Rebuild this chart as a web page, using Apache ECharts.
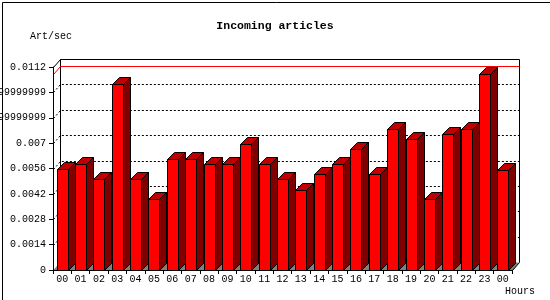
<!DOCTYPE html>
<html>
<head>
<meta charset="utf-8">
<script src="https://cdn.jsdelivr.net/npm/echarts@6/dist/echarts.min.js"></script>
<style>
html,body{margin:0;padding:0;background:#fff;}
#chart{width:550px;height:300px;}
</style>
</head>
<body>
<div id="chart"></div>
<script>
// ---- data ----
const hours = ['00','01','02','03','04','05','06','07','08','09','10','11','12','13','14','15','16','17','18','19','20','21','22','23','00'];
const artPerSec = [0.00556,0.00583,0.00500,0.01028,0.00500,0.00389,0.00611,0.00611,0.00583,0.00583,0.00694,0.00583,0.00500,0.00444,0.00528,0.00583,0.00667,0.00528,0.00778,0.00722,0.00389,0.00750,0.00778,0.01083,0.00550];
const yTickValues = [0,0.0014,0.0028,0.0042,0.0056,0.007,0.0084,0.0098,0.0112];
const yTickLabels = ['0','0.0014','0.0028','0.0042','0.0056','0.007','0.0083999999999999','0.0097999999999999','0.0112'];
const titleText = 'Incoming articles';
const yUnitText = 'Art/sec';
const xUnitText = 'Hours';

// ---- rendering ----
const FONT = '"Liberation Mono", "DejaVu Sans Mono", monospace';
const WALL_DX = 7, WALL_DY = 8, BAR_D = 7, BAR_W = 11;
const px = v => Math.round(v) + 0.5;

const chart = echarts.init(document.getElementById('chart'), null, {renderer: 'canvas'});

const barData = artPerSec.map((v, i) => [i, v]);
const gridData = yTickValues.slice(1, yTickValues.length - 1).map(v => [0, v]);
const maxVal = Math.max.apply(null, artPerSec);

function renderWalls(params, api) {
  const cs = params.coordSys;
  const L = px(cs.x), R = px(cs.x + cs.width), T = px(cs.y), B = px(cs.y + cs.height);
  const line = {stroke: '#000', lineWidth: 1, fill: null};
  return {type: 'group', children: [
    {type: 'polygon', shape: {points: [[L, B], [R, B], [R + WALL_DX, B - WALL_DY], [L + WALL_DX, B - WALL_DY]]},
      style: {fill: '#808080', stroke: null}},
    {type: 'polyline', shape: {points: [[L, T], [L + WALL_DX, T - WALL_DY], [R + WALL_DX, T - WALL_DY], [R + WALL_DX, B - WALL_DY], [R, B]]}, style: line},
    {type: 'polyline', shape: {points: [[L + WALL_DX, T - WALL_DY], [L + WALL_DX, B - WALL_DY]]}, style: line},
    {type: 'polyline', shape: {points: [[L, B], [L + WALL_DX, B - WALL_DY]]}, style: {stroke: '#808080', lineWidth: 1, fill: null}}
  ]};
}

function renderGridLine(params, api) {
  const cs = params.coordSys;
  const L = px(cs.x), R = px(cs.x + cs.width);
  const y = px(api.coord([0, api.value(1)])[1]);
  return {type: 'polyline', shape: {points: [[L, y], [L + WALL_DX, y - WALL_DY], [R + WALL_DX, y - WALL_DY]]},
    style: {stroke: '#000', lineWidth: 1, lineDash: [2, 2], fill: null}};
}

function renderMaxLine(params, api) {
  const cs = params.coordSys;
  const L = px(cs.x), R = px(cs.x + cs.width);
  const y = px(api.coord([0, api.value(1)])[1]);
  return {type: 'polyline', shape: {points: [[L, y], [L + WALL_DX, y - WALL_DY], [R + WALL_DX, y - WALL_DY]]},
    style: {stroke: '#ff0000', lineWidth: 1, fill: null}};
}

function renderBar(params, api) {
  const i = api.value(0), v = api.value(1);
  const top = api.coord([i, v]);
  const base = api.coord([i, 0]);
  const x0 = Math.round(top[0] - BAR_W / 2) + 0.5, x1 = x0 + BAR_W;
  const yt = px(top[1]), yb = px(base[1]);
  const s = {stroke: '#000', lineWidth: 1};
  return {type: 'group', children: [
    {type: 'polygon', shape: {points: [[x1, yt], [x1 + BAR_D, yt - BAR_D], [x1 + BAR_D, yb - BAR_D], [x1, yb]]},
      style: Object.assign({fill: '#800000'}, s)},
    {type: 'polygon', shape: {points: [[x0, yt], [x1, yt], [x1 + BAR_D, yt - BAR_D], [x0 + BAR_D, yt - BAR_D]]},
      style: Object.assign({fill: '#c00000'}, s)},
    {type: 'rect', shape: {x: x0, y: yt, width: BAR_W, height: yb - yt},
      style: Object.assign({fill: '#ff0000'}, s)}
  ]};
}

const option = {
  animation: false,
  backgroundColor: '#ffffff',
  title: {
    text: titleText, left: 'center', top: 20, padding: 0,
    textStyle: {fontFamily: FONT, fontSize: 11.5, fontWeight: 'bold', color: '#000'}
  },
  grid: {left: 53, right: 38, top: 67, bottom: 30, containLabel: false, outerBoundsMode: 'none'},
  xAxis: {
    type: 'category', data: hours, boundaryGap: true, z: 10,
    axisLine: {show: true, lineStyle: {color: '#000', width: 1}},
    axisTick: {show: true, length: 4, interval: 0, lineStyle: {color: '#000'}},
    axisLabel: {interval: 0, margin: 4, fontFamily: FONT, fontSize: 10, color: '#000', hideOverlap: false},
    splitLine: {show: false}
  },
  yAxis: {
    type: 'value', min: 0, max: 0.0112, interval: 0.0014, z: 10,
    axisLine: {show: true, lineStyle: {color: '#000', width: 1}},
    axisTick: {show: true, length: 4, lineStyle: {color: '#000'}},
    axisLabel: {
      margin: 7, fontFamily: FONT, fontSize: 10, color: '#000', hideOverlap: false,
      formatter: function (val) {
        let best = 0;
        yTickValues.forEach((t, k) => { if (Math.abs(t - val) < Math.abs(yTickValues[best] - val)) best = k; });
        return yTickLabels[best];
      }
    },
    splitLine: {show: false}
  },
  graphic: [
    {type: 'text', left: 30, top: 31, silent: true,
      style: {text: yUnitText, font: '10px ' + FONT, fill: '#000'}},
    {type: 'text', left: 505, top: 286, silent: true,
      style: {text: xUnitText, font: '10px ' + FONT, fill: '#000'}},
    {type: 'rect', left: 0, top: 0, silent: true, z: 100,
      shape: {x: 0, y: 0, width: 549, height: 299},
      style: {fill: null, stroke: '#000', lineWidth: 1}}
  ],
  series: [
    {type: 'custom', silent: true, z: 1, renderItem: renderWalls, data: [[0, 0]], clip: false},
    {type: 'custom', silent: true, z: 2, renderItem: renderGridLine, data: gridData, clip: false},
    {type: 'custom', silent: true, z: 3, renderItem: renderMaxLine, data: [[0, maxVal]], clip: false},
    {type: 'custom', silent: true, z: 4, renderItem: renderBar, data: barData, clip: false,
      encode: {x: 0, y: 1}}
  ]
};
chart.setOption(option);
</script>
</body>
</html>
